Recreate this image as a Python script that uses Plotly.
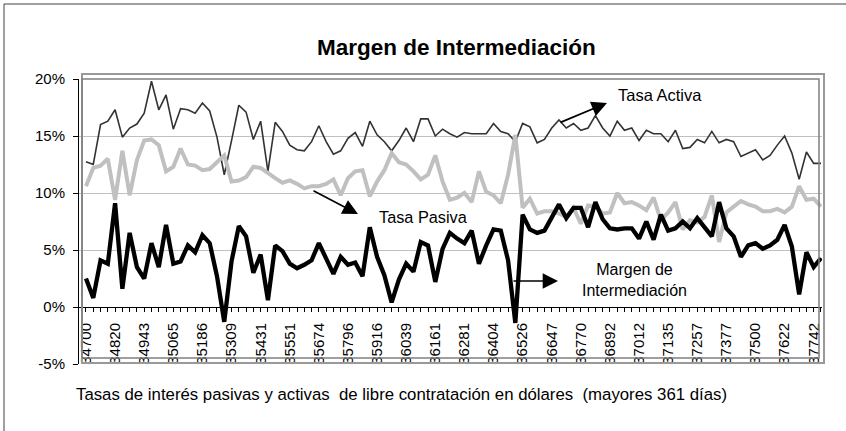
import datetime as dt
import plotly.graph_objects as go

W, H = 846, 431
FONT = "Arial, 'Liberation Sans', sans-serif"

# monthly rates in percent
tasa_activa = [12.75, 12.5, 16.0, 16.3, 17.3, 14.9, 15.7, 16.05, 17.0, 19.8,
               17.3, 18.6, 15.6, 17.4, 17.3, 17.0, 17.9, 17.2, 14.9, 11.6,
               14.6, 17.7, 17.1, 14.7, 16.3, 11.9, 16.2, 15.4, 14.2, 13.8,
               13.7, 14.5, 15.9, 14.5, 13.4, 13.7, 14.8, 15.3, 14.1, 16.3,
               15.1, 14.5, 13.7, 14.6, 15.7, 14.5, 16.5, 16.5, 15.0, 15.6,
               15.2, 14.9, 15.3, 15.2, 15.2, 15.2, 16.1, 15.4, 15.2, 14.5,
               16.1, 15.8, 14.4, 14.7, 15.7, 16.4, 15.7, 16.1, 15.5, 15.7,
               16.8, 15.7, 15.0, 16.3, 15.5, 15.7, 14.6, 15.5, 15.2, 15.2,
               14.5, 15.5, 13.9, 14.0, 14.7, 14.4, 15.4, 14.4, 14.7, 14.5,
               13.2, 13.5, 13.8, 12.9, 13.3, 14.2, 15.0, 13.5, 11.2, 13.6,
               12.6, 12.6]
tasa_pasiva = [10.6, 12.2, 12.4, 13.0, 9.4, 13.7, 9.8, 12.9, 14.6, 14.7,
               14.2, 11.9, 12.3, 13.9, 12.5, 12.4, 12.0, 12.1, 12.7, 13.3,
               11.0, 11.1, 11.4, 12.3, 12.2, 11.7, 11.3, 10.9, 11.1, 10.8,
               10.4, 10.6, 10.6, 10.8, 11.2, 9.8, 11.3, 11.9, 12.0, 9.7,
               11.0, 12.0, 13.5, 12.7, 12.5, 11.9, 11.2, 11.6, 13.3, 11.0,
               9.4, 9.6, 10.0, 9.2, 11.9, 10.1, 9.8, 9.1, 11.6, 15.1,
               8.7, 9.5, 8.2, 8.4, 8.4, 8.2, 7.9, 8.7, 7.3, 8.9,
               8.8, 8.2, 8.3, 10.0, 9.1, 9.2, 8.9, 8.5, 9.6, 7.6,
               8.3, 9.2, 6.8, 7.6, 7.4, 7.9, 9.8, 5.7, 8.3, 8.8,
               9.3, 9.0, 8.8, 8.4, 8.4, 8.6, 8.3, 8.8, 10.6, 9.4,
               9.5, 8.8]
margen = [2.5, 0.8, 4.1, 3.8, 9.1, 1.6, 6.5, 3.5, 2.5, 5.6,
          3.5, 7.2, 3.8, 4.0, 5.4, 4.8, 6.3, 5.6, 2.7, -1.3,
          4.0, 7.1, 6.2, 3.0, 4.6, 0.6, 5.4, 4.9, 3.8, 3.4,
          3.7, 4.1, 5.6, 4.3, 2.9, 4.4, 3.7, 3.9, 2.7, 7.0,
          4.4, 2.8, 0.4, 2.4, 3.8, 3.1, 5.7, 5.4, 2.2, 5.1,
          6.5, 6.0, 5.6, 6.7, 3.8, 5.4, 6.8, 6.7, 4.1, -1.4,
          8.1, 6.8, 6.5, 6.7, 7.9, 9.0, 7.8, 8.7, 8.7, 7.0,
          9.2, 7.7, 6.9, 6.8, 6.9, 6.9, 6.0, 7.5, 5.9, 8.1,
          6.7, 6.9, 7.5, 6.9, 7.8, 7.0, 6.2, 9.2, 6.9, 6.2,
          4.4, 5.4, 5.6, 5.1, 5.4, 5.9, 7.2, 5.3, 1.1, 4.8,
          3.5, 4.3]
tick_labels = ["34700", "34820", "34943", "35065", "35186", "35309", "35431",
               "35551", "35674", "35796", "35916", "36039", "36161", "36281",
               "36404", "36526", "36647", "36770", "36892", "37012", "37135",
               "37257", "37377", "37500", "37622", "37742"]
y_ticks = [-5, 0, 5, 10, 15, 20]
y_ticktext = ["-5%", "0%", "5%", "10%", "15%", "20%"]

# excel date serials, one per month from Jan 1995
meses = []
for i in range(len(margen)):
    d = dt.date(1995 + i // 12, i % 12 + 1, 1)
    meses.append(str((d - dt.date(1899, 12, 30)).days))


def px(x):
    return x / W


def py(y):
    return 1 - y / H


fig = go.Figure()
fig.add_trace(go.Scatter(x=meses, y=tasa_activa, mode="lines", name="Tasa Activa",
                         line=dict(color="#333333", width=1.6)))
fig.add_trace(go.Scatter(x=meses, y=tasa_pasiva, mode="lines", name="Tasa Pasiva",
                         line=dict(color="#C0C0C0", width=4)))
fig.add_trace(go.Scatter(x=meses, y=margen, mode="lines", name="Margen de Intermediación",
                         line=dict(color="#000000", width=4.3)))

yd = [py(364), py(79)]
zero_pos = yd[0] + (0 - y_ticks[0]) / (y_ticks[-1] - y_ticks[0]) * (yd[1] - yd[0])

fig.update_layout(
    width=W, height=H,
    margin=dict(l=0, r=0, t=0, b=0, autoexpand=False),
    paper_bgcolor="white", plot_bgcolor="white",
    showlegend=False,
    font=dict(family=FONT, color="black"),
    xaxis=dict(
        type="category", domain=[px(79), px(822)], range=[-0.96, 101.14],
        anchor="free", position=zero_pos,
        showline=True, linecolor="black", linewidth=1,
        showgrid=False, zeroline=False,
        tickmode="array", tickvals=meses,
        ticktext=[m if m in tick_labels else "" for m in meses],
        ticks="outside", ticklen=4, tickcolor="black", tickwidth=1,
        tickangle=-90, tickfont=dict(size=15, family=FONT),
        ticklabelstandoff=5,
    ),
    yaxis=dict(
        domain=yd, range=[y_ticks[0], y_ticks[-1]],
        showline=True, linecolor="black", linewidth=1,
        showgrid=True, gridcolor="#C0C0C0", gridwidth=1.3, zeroline=False,
        tickmode="array", tickvals=y_ticks, ticktext=y_ticktext,
        ticks="outside", ticklen=5, tickcolor="black",
        tickfont=dict(size=15, family=FONT), ticklabelstandoff=5,
    ),
)

# plot area double border and chart frame
fig.add_shape(type="rect", xref="paper", yref="paper",
              x0=px(82), x1=px(824), y0=py(363), y1=py(74),
              line=dict(color="#999999", width=2))
fig.add_shape(type="rect", xref="paper", yref="paper",
              x0=px(82), x1=px(819), y0=py(358), y1=py(79),
              line=dict(color="#808080", width=1.5))
fig.add_shape(type="line", xref="paper", yref="paper",
              x0=px(4), x1=1, y0=py(4), y1=py(4), line=dict(color="#404040", width=1))
fig.add_shape(type="line", xref="paper", yref="paper",
              x0=px(4), x1=px(4), y0=py(4), y1=0, line=dict(color="#404040", width=1))

# title and caption
fig.add_annotation(x=px(457), y=py(47), xref="paper", yref="paper", showarrow=False,
                   text="<b>Margen de Intermediación</b>", font=dict(size=22.5, family=FONT),
                   xanchor="center", yanchor="middle")
fig.add_annotation(x=px(401), y=py(394), xref="paper", yref="paper", showarrow=False,
                   text="Tasas de interés pasivas y activas \u00a0de libre contratación en dólares \u00a0(mayores 361 días)",
                   font=dict(size=16.8, family=FONT), xanchor="center", yanchor="middle")

# series labels
fig.add_annotation(x=px(616), y=py(95), xref="paper", yref="paper", showarrow=False,
                   text="Tasa Activa", font=dict(size=16.5, family=FONT),
                   xanchor="left", yanchor="middle")
fig.add_annotation(x=px(377), y=py(217), xref="paper", yref="paper", showarrow=False,
                   text="Tasa Pasiva", font=dict(size=16.3, family=FONT),
                   xanchor="left", yanchor="middle")
fig.add_annotation(x=px(634), y=py(280), xref="paper", yref="paper", showarrow=False,
                   text="Margen de<br>Intermediación", font=dict(size=16, family=FONT),
                   xanchor="center", yanchor="middle", align="center")

# arrows (head position, tail offset in pixels)
arrows = [
    (607, 103, -48, 20),
    (358, 214, -46, -24),
    (558, 281, -46, 0),
]
for hx, hy, ax, ay in arrows:
    fig.add_annotation(x=px(hx), y=py(hy), xref="paper", yref="paper",
                       ax=ax, ay=ay, text="", showarrow=True,
                       arrowhead=2, arrowsize=1.8, arrowwidth=1.7,
                       arrowcolor="black", standoff=0)

# page body has a default 8px margin; remove it so the figure sits at the window origin
fig.write_html("out.html", config={"displayModeBar": False},
               post_script="document.body.style.margin='0';")
